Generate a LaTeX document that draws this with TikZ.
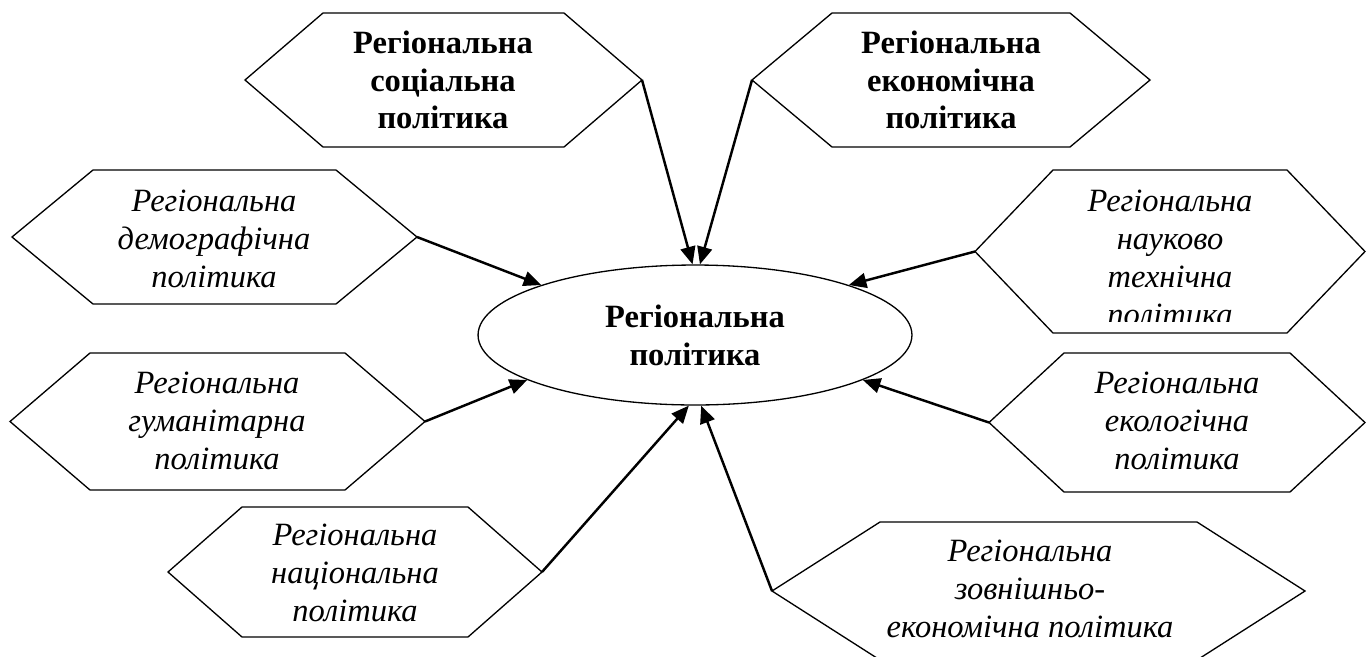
\documentclass[tikz,border=0pt]{standalone}
\usepackage{fontspec}
\setmainfont{Liberation Serif}
\usetikzlibrary{shapes.geometric,arrows.meta}
\tikzset{hexline/.style={line width=0.75pt},
  link/.style={line width=1.4pt,-{Triangle[length=10pt,width=8.5pt]}},
  boldtext/.style={align=center,font=\fontsize{18.5}{21.5}\selectfont\bfseries},
  italtext/.style={align=center,font=\fontsize{18.5}{21.5}\selectfont\itshape}}
% name, left, right, top, bottom, slant
\newcommand{\hexa}[6]{%
  \draw[hexline] (#2,{(#4+#5)/2}) coordinate (#1-w) -- ({#2+#6},#4) -- ({#3-#6},#4)
    -- (#3,{(#4+#5)/2}) coordinate (#1-e) -- ({#3-#6},#5) -- ({#2+#6},#5) -- cycle;}

\begin{document}
\begin{tikzpicture}[x=0.02cm,y=-0.02cm]
  \useasboundingbox (0,0) rectangle (1371,656);

  \hexa{soc}{245}{642}{13}{147}{78}
  \hexa{eco}{752}{1150}{13}{147}{80}
  \hexa{dem}{12}{417}{170}{304}{81}
  \hexa{sci}{975}{1365}{170}{333}{78}
  \hexa{hum}{10}{425}{353}{490}{80}
  \hexa{env}{989}{1365}{353}{492}{75}
  \hexa{nat}{168}{542}{507}{637}{74}
  \hexa{ext}{772}{1305}{522}{660}{108}

  \node [draw,ellipse,hexline,minimum width=8.68cm,minimum height=2.8cm,inner sep=0pt,
    boldtext] (pol) at (695,335) {Регіональна\\політика};

  \node [boldtext] (soc) at (443,80) {Регіональна\\соціальна\\політика};
  \node [boldtext] (eco) at (951,80) {Регіональна\\економічна\\політика};
  \node [italtext] (dem) at (214,239) {Регіональна\\демографічна\\політика};
  \begin{scope}
    \clip (975,170) rectangle (1365,321);
    \node [italtext] (sci) at (1170,258) {Регіональна\\науково\\технічна\\політика};
  \end{scope}
  \node [italtext] (hum) at (217,421) {Регіональна\\гуманітарна\\політика};
  \node [italtext] (env) at (1177,421) {Регіональна\\екологічна\\політика};
  \node [italtext] (nat) at (355,573) {Регіональна\\національна\\політика};
  \node [italtext] (ext) at (1030,589) {Регіональна\\зовнішньо-\\економічна політика};

  \draw [link] (soc-e) -- (pol.92);
  \draw [link] (eco-w) -- (pol.86);
  \draw [link] (dem-e) -- (pol.162);
  \draw [link] (sci-w) -- (pol.18);
  \draw [link] (hum-e) -- (pol.195);
  \draw [link] (env-w) -- (pol.345);
  \draw [link] (nat-e) -- (pol.265);
  \draw [link] (ext-w) -- (pol.275);
\end{tikzpicture}
\end{document}
